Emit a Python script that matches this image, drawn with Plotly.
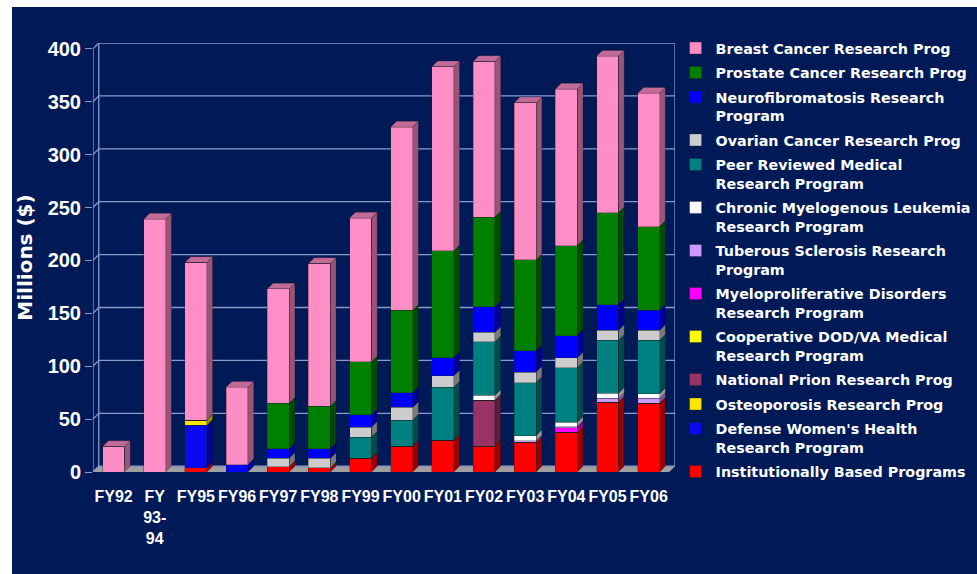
import plotly.graph_objects as go

# ---- data (millions of dollars), stacked bottom-up ----
categories = ["FY92", "FY<br>93-<br>94", "FY95", "FY96", "FY97", "FY98", "FY99",
              "FY00", "FY01", "FY02", "FY03", "FY04", "FY05", "FY06"]

institutional = [0, 0, 4, 0, 5, 4, 13, 24.5, 30, 24.5, 28, 37.5, 66, 65]
womens_health = [0, 0, 40, 0, 0, 0, 0, 0, 0, 0, 0, 0, 0, 0]
osteoporosis  = [0, 0, 5, 0, 0, 0, 0, 0, 0, 0, 0, 0, 0, 0]
prion         = [0, 0, 0, 0, 0, 0, 0, 0, 0, 43.5, 0, 0, 0, 0]
coop_dod_va   = [0, 0, 0, 0, 0, 0, 0, 0, 0, 0, 0, 0, 0, 0]
myelo         = [0, 0, 0, 0, 0, 0, 0, 0, 0, 0, 0, 4.5, 0, 0]
tuberous      = [0, 0, 0, 0, 0, 0, 0, 0, 0, 0, 1.5, 1, 3.5, 4.5]
cml           = [0, 0, 0, 0, 0, 0, 0, 0, 0, 4.5, 5, 4, 5, 4.5]
peer_reviewed = [0, 0, 0, 0, 0, 0, 20, 24.5, 50, 50.5, 50, 51.5, 50, 50.5]
ovarian       = [0, 0, 0, 0, 8, 9, 9.5, 12, 11, 9, 10, 9.5, 9.5, 9.5]
neuro         = [0, 0, 0, 7, 9, 9, 11.5, 14, 17, 24, 20, 21, 24, 19]
prostate      = [0, 0, 0, 0, 43, 40, 50, 78, 101, 85, 86, 85, 87, 79]
breast        = [24, 239, 149, 73, 108, 135, 136, 173, 174, 147, 148.5, 148, 148, 126]

series_names = [
    "Institutionally Based Programs",
    "Defense Women's Health<br>Research Program",
    "Osteoporosis Research Prog",
    "National Prion Research Prog",
    "Cooperative DOD/VA Medical<br>Research Program",
    "Myeloproliferative Disorders<br>Research Program",
    "Tuberous Sclerosis Research<br>Program",
    "Chronic Myelogenous Leukemia<br>Research Program",
    "Peer Reviewed Medical<br>Research Program",
    "Ovarian Cancer Research Prog",
    "Neurofibromatosis Research<br>Program",
    "Prostate Cancer Research Prog",
    "Breast Cancer Research Prog",
]
series_values = [institutional, womens_health, osteoporosis, prion, coop_dod_va,
                 myelo, tuberous, cml, peer_reviewed, ovarian, neuro, prostate, breast]
series_colors = ["#FF0000", "#0A0AF0", "#FFE600", "#993366", "#FFFF00",
                 "#FF00FF", "#CC99FF", "#FFFFFF", "#008080", "#CCCCCC",
                 "#0000FF", "#008000", "#FF8EC6"]

y_ticks = [0, 50, 100, 150, 200, 250, 300, 350, 400]

# ---- styling constants ----
NAVY = "#001A57"
GRID = "#8A9BCB"
BAR_W = 0.53      # front face width (category units)
DX = 0.14         # 3-D depth offset, x (category units)
DY = 5.5          # 3-D depth offset, y (value units)
N = len(categories)
xs = list(range(N))


def shade(hex_color, f):
    h = hex_color.lstrip("#")
    r, g, b = (int(h[i:i + 2], 16) for i in (0, 2, 4))
    return "rgb(%d,%d,%d)" % (int(r * f), int(g * f), int(b * f))


def poly(points):
    return "M " + " L ".join("%.4f,%.4f" % p for p in points) + " Z"


shapes = []

# navy panel with a thin white border on the left and top
shapes.append(dict(type="rect", xref="paper", yref="paper",
                   x0=(12 - 93) / 582, x1=(977 - 93) / 582,
                   y0=-(574 - 472) / 429, y1=(472 - 7) / 429,
                   fillcolor=NAVY, line=dict(width=0), layer="below"))

# floor of the 3-D box
shapes.append(dict(type="path", xref="x", yref="y", layer="below",
                   path=poly([(-0.5, 0), (N - 0.5, 0), (N - 0.5 + DX, DY), (-0.5 + DX, DY)]),
                   fillcolor="#A0A0A0", line=dict(width=0)))

# back-wall gridlines with their short diagonal to the front axis
for v in y_ticks:
    shapes.append(dict(type="path", xref="x", yref="y", layer="below",
                       path="M %.4f,%.4f L %.4f,%.4f L %.4f,%.4f" % (
                           -0.5, v, -0.5 + DX, v + DY, N - 0.5 + DX, v + DY),
                       line=dict(color=GRID, width=1.3)))
# wall edges and front value axis
shapes.append(dict(type="line", xref="x", yref="y", layer="below",
                   x0=-0.5 + DX, x1=-0.5 + DX, y0=DY, y1=400 + DY,
                   line=dict(color=GRID, width=1.3)))
shapes.append(dict(type="line", xref="x", yref="y", layer="below",
                   x0=N - 0.5 + DX, x1=N - 0.5 + DX, y0=DY, y1=400 + DY,
                   line=dict(color=GRID, width=1.3)))
shapes.append(dict(type="line", xref="x", yref="y", layer="below",
                   x0=-0.5, x1=-0.5, y0=0, y1=400,
                   line=dict(color=GRID, width=1.3)))

# side and top faces of each stacked bar
for i in xs:
    base = 0.0
    top_color = None
    for vals, col in zip(series_values, series_colors):
        v = vals[i]
        if v <= 0:
            continue
        xr = i + BAR_W / 2
        shapes.append(dict(type="path", xref="x", yref="y", layer="below",
                           path=poly([(xr, base), (xr + DX, base + DY),
                                      (xr + DX, base + v + DY), (xr, base + v)]),
                           fillcolor=shade(col, 0.6),
                           line=dict(color="rgba(0,0,0,0.35)", width=0.5)))
        base += v
        top_color = col
    if top_color is not None:
        xl = i - BAR_W / 2
        xr = i + BAR_W / 2
        shapes.append(dict(type="path", xref="x", yref="y", layer="below",
                           path=poly([(xl, base), (xl + DX, base + DY),
                                      (xr + DX, base + DY), (xr, base)]),
                           fillcolor=shade(top_color, 0.76),
                           line=dict(color="rgba(0,0,0,0.35)", width=0.5)))

fig = go.Figure()
n_series = len(series_names)
for k, (name, vals, col) in enumerate(zip(series_names, series_values, series_colors)):
    fig.add_trace(go.Bar(
        x=xs, y=vals, name=name, width=BAR_W,
        legendgroup="g%d" % k, legendrank=100 + n_series - k,
        marker=dict(color=col, line=dict(color="rgba(30,30,30,0.55)", width=0.6)),
    ))

fig.update_layout(
    width=977, height=574, autosize=False,
    barmode="stack",
    paper_bgcolor="white",
    plot_bgcolor=NAVY,
    margin=dict(l=93, r=302, t=43, b=102, autoexpand=False),
    shapes=shapes,
    showlegend=True,
    legend=dict(
        x=1.001, xanchor="left", y=1.025, yanchor="top",
        traceorder="grouped", tracegroupgap=2.85, valign="top",
        font=dict(family="DejaVu Sans", size=14.3, color="white", weight="bold"),
        bgcolor="rgba(0,0,0,0)", itemwidth=30, maxheight=574,
    ),
    xaxis=dict(
        range=[-0.5, N - 0.5 + DX],
        tickmode="array", tickvals=xs, ticktext=categories, tickangle=0,
        showgrid=False, zeroline=False, showline=False, ticks="",
        ticklabelstandoff=13,
        tickfont=dict(family="Liberation Sans", size=16, color="white", weight="bold"),
    ),
    yaxis=dict(
        range=[0, 400 + DY],
        tickmode="array", tickvals=y_ticks,
        showgrid=False, zeroline=False, showline=False,
        ticks="outside", ticklen=7, tickcolor=GRID, tickwidth=1.3,
        tickfont=dict(family="Liberation Sans", size=20, color="white", weight="bold"),
        title=dict(text="Millions ($)", standoff=9,
                   font=dict(family="DejaVu Sans", size=20, color="white", weight="bold")),
    ),
)

fig.write_html("out.html")
